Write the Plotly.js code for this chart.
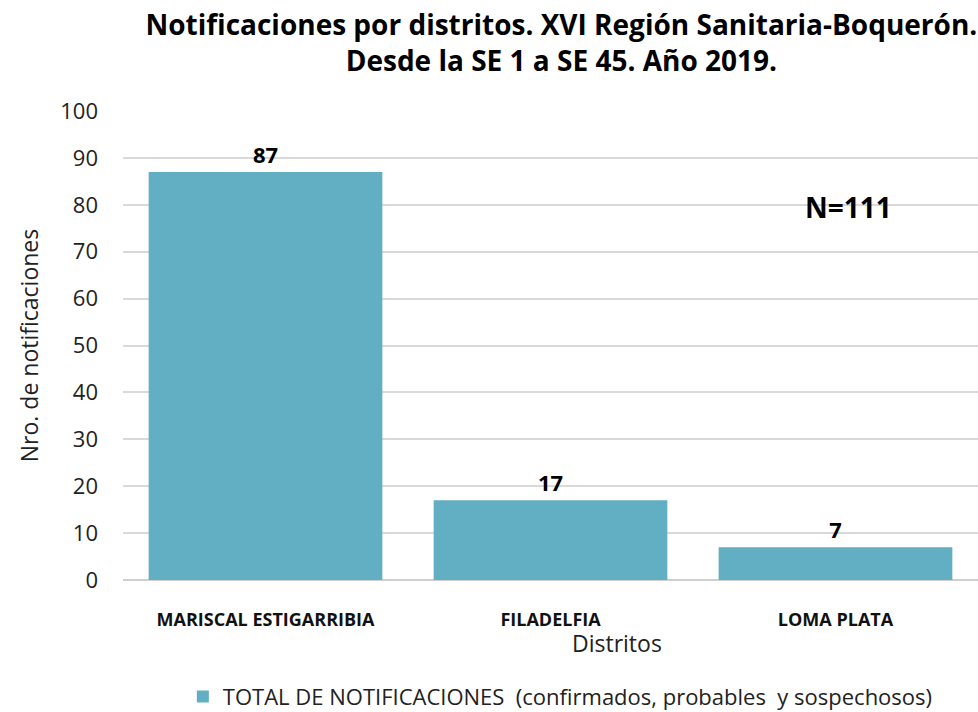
<!DOCTYPE html>
<html><head><meta charset="utf-8">
<script src="https://cdn.plot.ly/plotly-3.0.1.min.js"></script>
<style>body{margin:0;background:#fff}#chart{width:978px;height:712px}</style>
</head><body><div id="chart"></div>
<script>
const categories = ["MARISCAL ESTIGARRIBIA", "FILADELFIA", "LOMA PLATA"];
const values = [87, 17, 7];
const seriesName = "TOTAL DE NOTIFICACIONES  (confirmados, probables  y sospechosos)";
const yTicks = [0,10,20,30,40,50,60,70,80,90,100];
const totalLabel = "N=111";

const F = "'Open Sans', 'Noto Sans', sans-serif";
const trace = {
  type: "bar", x: categories, y: values, name: seriesName,
  marker: {color: "#62aec2"}, width: 0.82,
  text: values.map(String), textposition: "outside", cliponaxis: false,
  textfont: {family: F, size: 22, color: "#000", weight: "bold"},
  showlegend: true
};
const layout = {
  width: 978, height: 712,
  margin: {l: 123, r: 0, t: 111, b: 132, autoexpand: false},
  paper_bgcolor: "#fff", plot_bgcolor: "#fff",
  font: {family: F, color: "#222"},
  title: {text: "<b>Notificaciones por distritos. XVI Región Sanitaria-Boquerón.<br>Desde la SE 1 a SE 45. Año 2019.</b>",
    x: 0.574, xanchor: "center", y: 0.951, yanchor: "top",
    font: {family: F, size: 28, color: "#000"}},
  xaxis: {type: "category", showgrid: false, showline: false, zeroline: false,
    tickfont: {family: F, size: 18, color: "#111", weight: "bold"}, ticks: "", ticklabelstandoff: 27},
  yaxis: {range: [0, 100], tickvals: yTicks, showgrid: true, gridcolor: "#d9d9d9", gridwidth: 2,
    zeroline: true, zerolinecolor: "#cfcfcf", zerolinewidth: 2, showline: false,
    tickfont: {family: F, size: 22, color: "#222"}, ticklabelstandoff: 24,
    title: {text: "Nro. de notificaciones", font: {family: F, size: 23, color: "#222"}, standoff: 15}},
  bargap: 0.18,
  legend: {orientation: "h", x: 0.07, xanchor: "left", y: -0.249, yanchor: "middle",
    font: {family: F, size: 22, color: "#222"}, itemwidth: 30},
  annotations: [
    {text: "Distritos", xref: "paper", yref: "paper", x: 0.578, y: -0.135, xanchor: "center", yanchor: "middle",
      showarrow: false, font: {family: F, size: 23, color: "#222"}},
    {text: "<b>" + totalLabel + "</b>", xref: "paper", yref: "paper", x: 0.848, y: 0.795, xanchor: "center", yanchor: "middle",
      showarrow: false, font: {family: F, size: 28, color: "#000"}}
  ]
};
Plotly.newPlot("chart", [trace], layout, {displayModeBar: false, staticPlot: true});
</script></body></html>
